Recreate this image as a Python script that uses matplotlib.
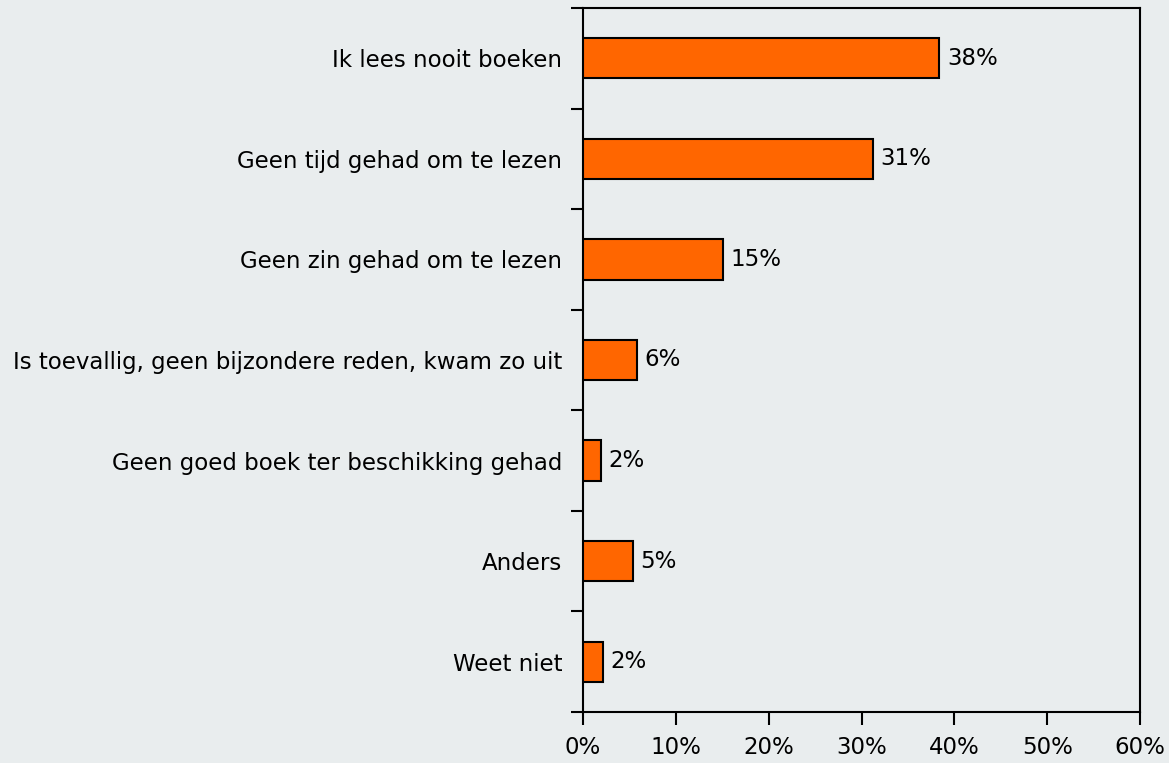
import matplotlib
matplotlib.use("Agg")
import matplotlib.pyplot as plt
import numpy as np

categories = ["Ik lees nooit boeken", "Geen tijd gehad om te lezen", "Geen zin gehad om te lezen",
              "Is toevallig, geen bijzondere reden, kwam zo uit", "Geen goed boek ter beschikking gehad",
              "Anders", "Weet niet"]
values = [38.4, 31.2, 15.1, 5.8, 1.9, 5.4, 2.2]
labels = ["38%", "31%", "15%", "6%", "2%", "5%", "2%"]
xticks = [0, 10, 20, 30, 40, 50, 60]
xticklabels = ["0%", "10%", "20%", "30%", "40%", "50%", "60%"]

bg = "#E9EDEE"
fig = plt.figure(figsize=(11.69, 7.63), dpi=100, facecolor=bg)
ax = fig.add_axes([583/1169, 1-712/763, (1140-583)/1169, (712-8)/763])
ax.set_facecolor(bg)

y = np.arange(len(categories))[::-1]
ax.barh(y, values, height=0.4, color="#FF6600", edgecolor="black", linewidth=1.5, zorder=3)
for yi, v, l in zip(y, values, labels):
    ax.text(v + 0.8, yi, l, va="center", ha="left", fontsize=16.5, color="black")

ax.set_xlim(0, 60)
ax.set_ylim(-0.5, len(categories) - 0.5)
ax.set_xticks(xticks)
ax.set_xticklabels(xticklabels, fontsize=16.5)
ax.set_yticks(np.arange(-0.5, len(categories), 1.0))
ax.set_yticklabels([])
ax.set_yticks(y, minor=True)
ax.set_yticklabels(categories, minor=True, fontsize=16.5)
ax.tick_params(axis="y", which="minor", length=0, pad=15)
ax.tick_params(axis="y", which="major", length=9, width=1.5, direction="out")
ax.tick_params(axis="x", length=9, width=1.5, direction="out", pad=8)
for s in ax.spines.values():
    s.set_linewidth(1.5)

fig.savefig("out.png", dpi=100, facecolor=bg)
